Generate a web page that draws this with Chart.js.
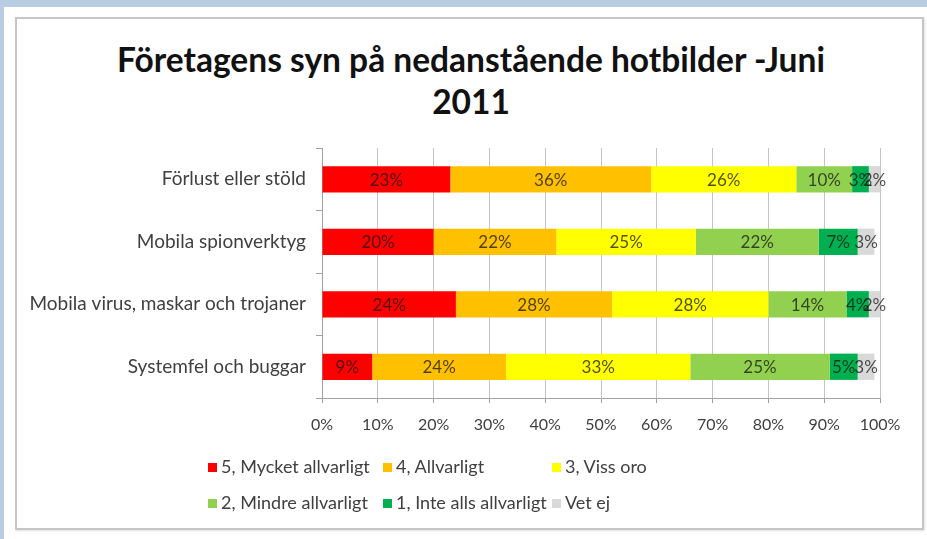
<!DOCTYPE html>
<html><head><meta charset="utf-8">
<script src="https://cdn.jsdelivr.net/npm/chart.js@4.4.1/dist/chart.umd.min.js"></script>
<style>
html,body{margin:0;padding:0;background:#fff;width:927px;height:539px;overflow:hidden;font-family:Lato,'Open Sans',sans-serif}
#topband{position:absolute;left:0;top:0;width:927px;height:7px;background:#b8cce4}
#leftband{position:absolute;left:0;top:0;width:4px;height:539px;background:#b8cce4}
#frame{position:absolute;left:15px;top:17px;width:905px;height:509px;border:2px solid #c6c6c6;box-shadow:1px 1px 2px #e0e0e0}
#title{position:absolute;left:15px;width:912px;top:38px;text-align:center;font-weight:bold;font-size:33.5px;line-height:42px;color:#111;white-space:nowrap}
canvas{position:absolute;left:0;top:0}
.lg{position:absolute;font-size:18px;color:#404040;white-space:nowrap;line-height:20px}
.lg span{display:inline-block;width:9px;height:9px;margin-right:4px;vertical-align:1px}
</style>
</head><body>
<div id="topband"></div><div id="leftband"></div>
<div id="frame"></div>
<div id="title">Företagens syn på nedanstående hotbilder -Juni<br>2011</div>
<canvas id="c" width="927" height="539"></canvas>
<div id="legend"></div>
<script>
const categories = ["Förlust eller stöld","Mobila spionverktyg","Mobila virus, maskar och trojaner","Systemfel och buggar"];
const seriesNames = ["5, Mycket allvarligt","4, Allvarligt","3, Viss oro","2, Mindre allvarligt","1, Inte alls allvarligt","Vet ej"];
const mycketAllvarligt = [23,20,24,9];
const allvarligt = [36,22,28,24];
const vissOro = [26,25,28,33];
const mindreAllvarligt = [10,22,14,25];
const inteAllsAllvarligt = [3,7,4,5];
const vetEj = [2,3,2,3];
const tickValues = [0,10,20,30,40,50,60,70,80,90,100];
const colors = ["#ff0000","#ffc000","#ffff00","#92d050","#00b050","#d9d9d9"];
const seriesValues = [mycketAllvarligt,allvarligt,vissOro,mindreAllvarligt,inteAllsAllvarligt,vetEj];

const labelPlugin = {
  id:'barLabels',
  afterDatasetsDraw(chart){
    const ctx = chart.ctx;
    ctx.save();
    ctx.font = '17px Lato';
    ctx.fillStyle = 'rgba(20,20,20,0.75)';
    ctx.textAlign = 'center';
    ctx.textBaseline = 'middle';
    chart.data.datasets.forEach((ds,di)=>{
      const meta = chart.getDatasetMeta(di);
      meta.data.forEach((el,i)=>{
        const v = ds.data[i];
        ctx.fillText(v+'%', (el.x+el.base)/2, el.y+1);
      });
    });
    ctx.restore();
  }
};

const chart = new Chart(document.getElementById('c'),{
  type:'bar',
  data:{
    labels:categories,
    datasets:seriesNames.map((n,i)=>({label:n,data:seriesValues[i],backgroundColor:colors[i],borderWidth:0,barPercentage:0.42,categoryPercentage:1}))
  },
  options:{
    indexAxis:'y',
    responsive:false,
    devicePixelRatio:1,
    animation:false,
    layout:{padding:{left:16,right:47,top:148,bottom:101}},
    plugins:{legend:{display:false},title:{display:false},tooltip:{enabled:false}},
    scales:{
      x:{
        stacked:true,min:0,max:100,
        afterBuildTicks(s){s.ticks = tickValues.map(v=>({value:v}));},
        afterFit(s){s.height=40;},
        ticks:{callback:v=>v+'%',font:{family:'Lato',size:16},color:'#404040',padding:12,maxRotation:0,autoSkip:false},
        grid:{color:'#c4c4c4',tickColor:'#a0a0a0',tickLength:5},
        border:{color:'#a0a0a0'}
      },
      y:{
        stacked:true,
        afterFit(s){s.width=306;},
        ticks:{font:{family:'Lato',size:19},color:'#404040',padding:10},
        grid:{drawOnChartArea:false,offset:true,tickLength:6,color:'#a0a0a0'},
        border:{color:'#a0a0a0'}
      }
    }
  },
  plugins:[labelPlugin]
});

const lgCols = [208,383,552];
const lgRows = [456,492];
const lg = document.getElementById('legend');
chart.data.datasets.forEach((ds,i)=>{
  const d = document.createElement('div');
  d.className='lg';
  d.style.left = lgCols[i%3]+'px';
  d.style.top = lgRows[Math.floor(i/3)]+'px';
  d.innerHTML = '<span style="background:'+ds.backgroundColor+'"></span>'+ds.label;
  lg.appendChild(d);
});
</script>
</body></html>
